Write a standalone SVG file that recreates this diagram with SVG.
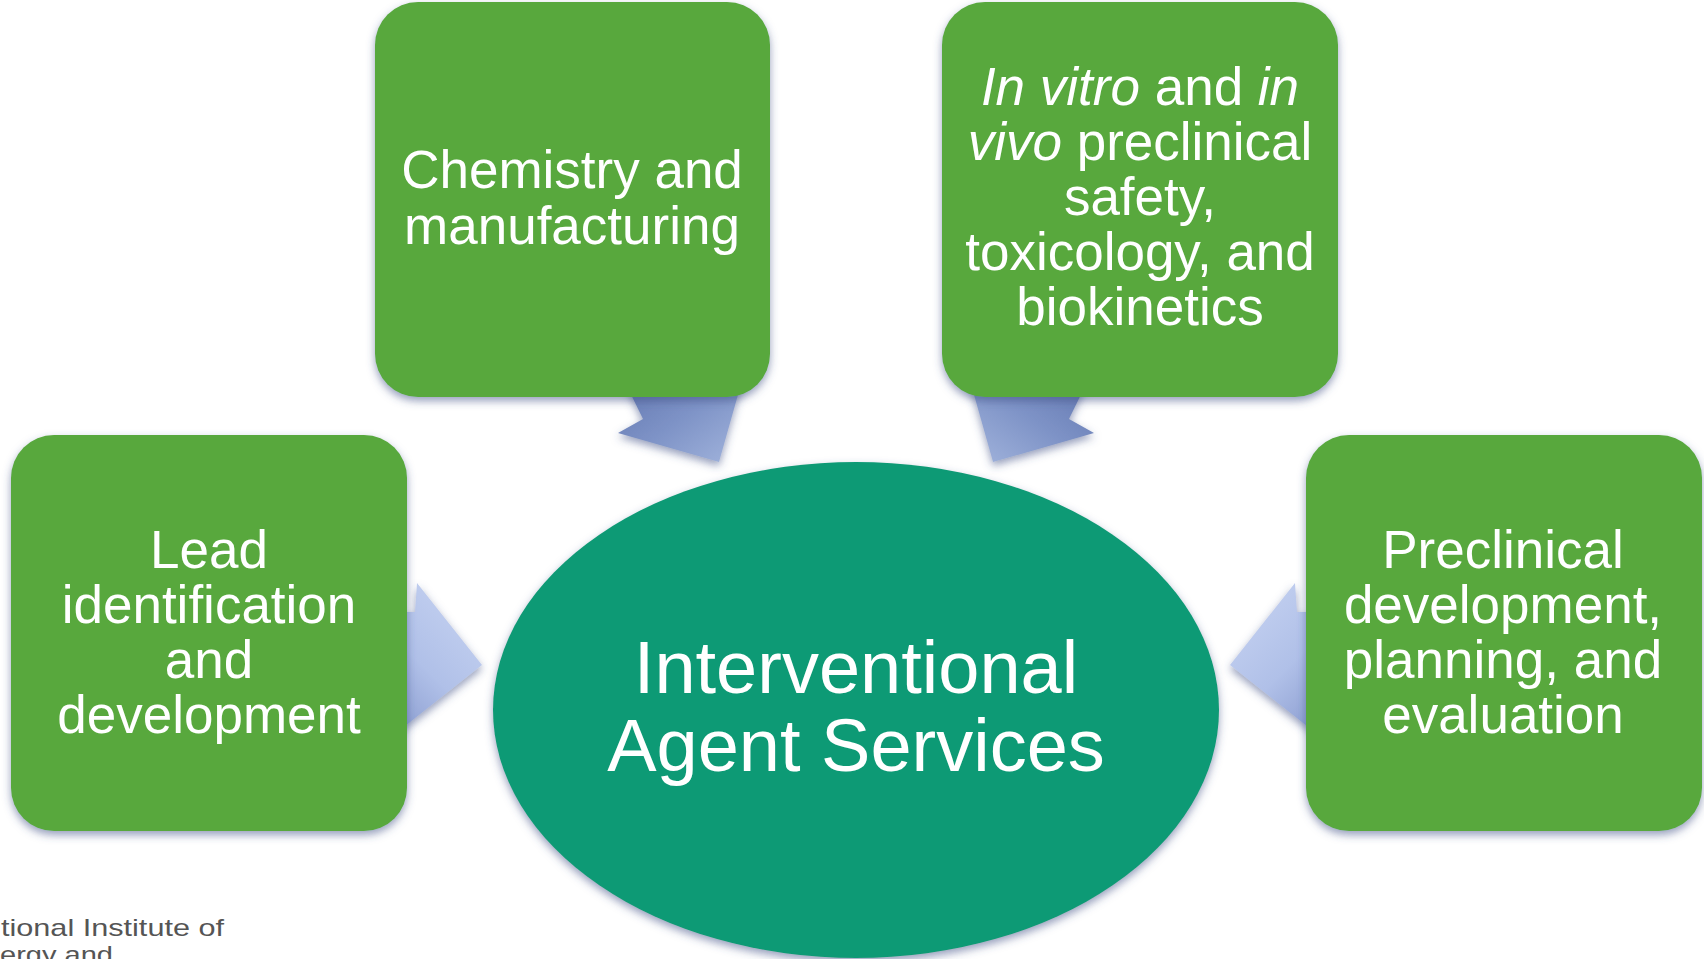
<svg xmlns="http://www.w3.org/2000/svg" width="1704" height="959" viewBox="0 0 1704 959">
<defs>
<style>
.box{fill:#59a83e;filter:url(#sh);}
.lbl{font-family:"Liberation Sans",Arial,sans-serif;font-size:53px;fill:#ffffff;text-anchor:middle;}
.it{font-style:italic;}
.ctr{font-family:"Liberation Sans",Arial,sans-serif;font-size:74px;fill:#ffffff;text-anchor:middle;}
.foot{font-family:"Liberation Sans",Arial,sans-serif;font-size:24px;fill:#555555;}
</style>
<filter id="sh" x="-10%" y="-10%" width="120%" height="125%">
<feDropShadow dx="0" dy="4" stdDeviation="4" flood-color="#3e4f85" flood-opacity="0.55"/>
</filter>
<linearGradient id="gTL" x1="0" y1="0" x2="1" y2="1">
<stop offset="0" stop-color="#5f74ad"/>
<stop offset="0.5" stop-color="#7d92c6"/>
<stop offset="1" stop-color="#a3b5dd"/>
</linearGradient>
<linearGradient id="gTR" x1="1" y1="0" x2="0" y2="1">
<stop offset="0" stop-color="#5f74ad"/>
<stop offset="0.5" stop-color="#7d92c6"/>
<stop offset="1" stop-color="#a3b5dd"/>
</linearGradient>
<linearGradient id="gL" x1="0.6" y1="0" x2="0" y2="1">
<stop offset="0" stop-color="#c3d0f0"/>
<stop offset="0.5" stop-color="#b0c0e8"/>
<stop offset="1" stop-color="#8597cc"/>
</linearGradient>
<linearGradient id="gR" x1="0.4" y1="0" x2="1" y2="1">
<stop offset="0" stop-color="#c3d0f0"/>
<stop offset="0.5" stop-color="#b0c0e8"/>
<stop offset="1" stop-color="#8597cc"/>
</linearGradient>
</defs>
<rect width="1704" height="959" fill="#ffffff"/>

<g id="connectors" filter="url(#sh)">
<polygon points="619,370 643,419 618,433 719,462 745,370" fill="url(#gTL)"/>
<polygon points="1093,370 1069,419 1094,433 993,462 967,370" fill="url(#gTR)"/>
<polygon points="390,612 415,612 417,583 482,665 390,738" fill="url(#gL)"/>
<polygon points="1322,612 1297,612 1295,583 1230,665 1322,738" fill="url(#gR)"/>
</g>

<g id="center">
<ellipse cx="856" cy="710" rx="363" ry="248" fill="#109a75" filter="url(#sh)"/>
<text class="ctr" x="856" y="693">Interventional</text>
<text class="ctr" x="856" y="771">Agent Services</text>
</g>

<g id="chemistry">
<rect class="box" x="375" y="2" width="395" height="395" rx="43"/>
<text class="lbl" x="572" y="188">Chemistry and</text>
<text class="lbl" x="572" y="244">manufacturing</text>
</g>

<g id="invitro">
<rect class="box" x="942" y="2" width="396" height="395" rx="43"/>
<text class="lbl" x="1140" y="105"><tspan class="it">In vitro</tspan> and <tspan class="it">in</tspan></text>
<text class="lbl" x="1140" y="160"><tspan class="it">vivo</tspan> preclinical</text>
<text class="lbl" x="1140" y="215">safety,</text>
<text class="lbl" x="1140" y="270">toxicology, and</text>
<text class="lbl" x="1140" y="325">biokinetics</text>
</g>

<g id="lead">
<rect class="box" x="11" y="435" width="396" height="396" rx="43"/>
<text class="lbl" x="209" y="568">Lead</text>
<text class="lbl" x="209" y="623">identification</text>
<text class="lbl" x="209" y="678">and</text>
<text class="lbl" x="209" y="733">development</text>
</g>

<g id="preclinical">
<rect class="box" x="1306" y="435" width="396" height="396" rx="43"/>
<text class="lbl" x="1503" y="568">Preclinical</text>
<text class="lbl" x="1503" y="623">development,</text>
<text class="lbl" x="1503" y="678">planning, and</text>
<text class="lbl" x="1503" y="733">evaluation</text>
</g>

<g id="footer">
<text class="foot" x="1" y="936" textLength="223" lengthAdjust="spacingAndGlyphs">tional Institute of</text>
<text class="foot" x="0" y="963" textLength="113" lengthAdjust="spacingAndGlyphs">ergy and</text>
</g>
</svg>
